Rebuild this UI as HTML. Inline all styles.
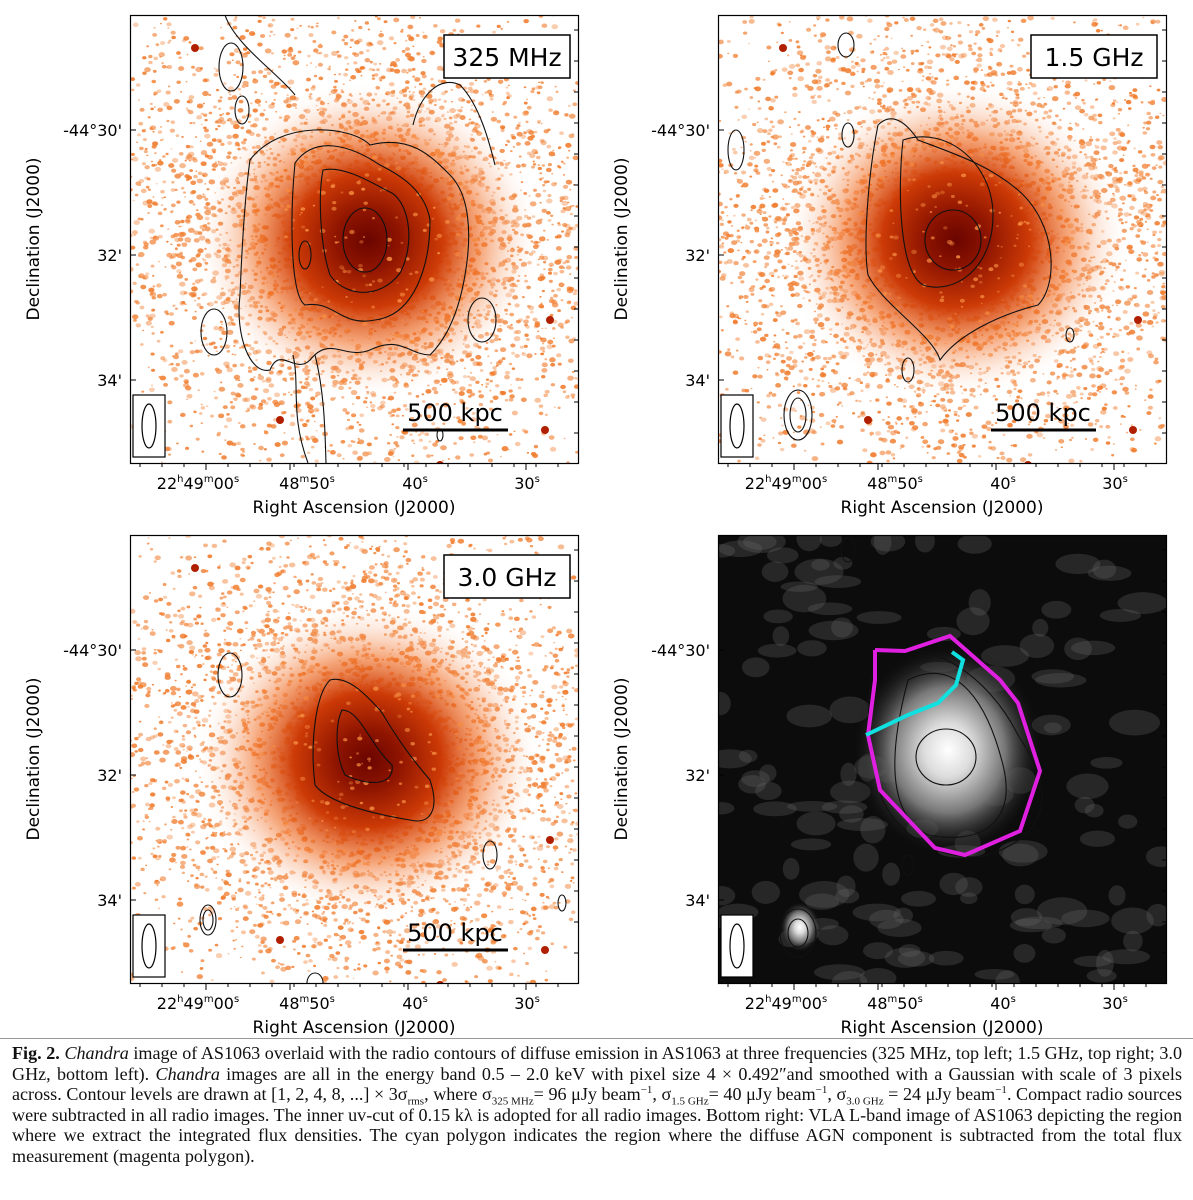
<!DOCTYPE html>
<html><head><meta charset="utf-8"><style>
body{margin:0;background:#fff;width:1193px;height:1200px;overflow:hidden;font-family:"DejaVu Sans","Liberation Sans",sans-serif}
#cap{position:absolute;left:12px;top:1043px;width:1170px;font-family:"Liberation Serif",serif;font-size:18.1px;line-height:20.6px;color:#111;text-align:justify}
#cap sub,#cap sup{font-size:11px;line-height:0}
#sep{position:absolute;left:0;top:1038px;width:1193px;border-top:1px solid #999}
</style></head><body>
<svg id="fig" width="1193" height="1040" style="position:absolute;left:0;top:0"></svg>
<div id="sep"></div>
<div id="cap"><b>Fig. 2.</b> <i>Chandra</i> image of AS1063 overlaid with the radio contours of diffuse emission in AS1063 at three frequencies (325 MHz, top left; 1.5 GHz, top right; 3.0 GHz, bottom left). <i>Chandra</i> images are all in the energy band 0.5 – 2.0 keV with pixel size 4 × 0.492″and smoothed with a Gaussian with scale of 3 pixels across. Contour levels are drawn at [1, 2, 4, 8, ...] × 3σ<sub>rms</sub>, where σ<sub>325 MHz</sub>= 96 μJy beam<sup>−1</sup>, σ<sub>1.5 GHz</sub>= 40 μJy beam<sup>−1</sup>, σ<sub>3.0 GHz</sub> = 24 μJy beam<sup>−1</sup>. Compact radio sources were subtracted in all radio images. The inner uv-cut of 0.15 kλ is adopted for all radio images. Bottom right: VLA L-band image of AS1063 depicting the region where we extract the integrated flux densities. The cyan polygon indicates the region where the diffuse AGN component is subtracted from the total flux measurement (magenta polygon).</div>
<script>
const yTicks=["-44°30'","32'","34'"];
const xTicks=[["22","h","49","m","00","s"],["48","m","50","s"],["40","s"],["30","s"]];
const panelLabels=["325 MHz","1.5 GHz","3.0 GHz",""];
const NS="http://www.w3.org/2000/svg";
const svg=document.getElementById('fig');
function el(t,a,p){const e=document.createElementNS(NS,t);for(const k in a)e.setAttribute(k,a[k]);(p||svg).appendChild(e);return e;}
let seed=7;function rnd(){seed=(seed*16807)%2147483647;return seed/2147483647;}
const W=448,H=448;
const panels=[[130,15],[718,15],[130,535],[718,535]];
const defs=el('defs',{});
defs.innerHTML=`<radialGradient id="gx" cx="0.5" cy="0.5" r="0.5"><stop offset="0" stop-color="#6a0500"/><stop offset="0.18" stop-color="#8e1400"/><stop offset="0.42" stop-color="#cc3a06"/><stop offset="0.65" stop-color="#f07028" stop-opacity="0.6"/><stop offset="1" stop-color="#fff" stop-opacity="0"/></radialGradient>
<radialGradient id="gr" cx="0.5" cy="0.5" r="0.5"><stop offset="0" stop-color="#fff"/><stop offset="0.25" stop-color="#ddd"/><stop offset="0.6" stop-color="#777"/><stop offset="1" stop-color="#111" stop-opacity="0"/></radialGradient>
<clipPath id="cp"><rect x="0" y="0" width="448" height="448"/></clipPath>`;
function addSpeckles(g,cx,cy,n,col,rs){
 for(let i=0;i<n;i++){const x=rnd()*W,y=rnd()*H;const d=Math.hypot((x-cx)/1.1,(y-cy))/250;
  if(rnd()>Math.max(0.1,1.15-d))continue;
  const r=0.7+rnd()*rs;const c=el('ellipse',{cx:x,cy:y,rx:r*1.3,ry:r,fill:col,opacity:0.35+rnd()*0.55},g);
  }
}
function ell(g,cx,cy,rx,ry,c,w){el('ellipse',{cx,cy,rx,ry,fill:'none',stroke:c||'#111','stroke-width':w||1.1},g);}
function path(g,d,c,w){el('path',{d,fill:'none',stroke:c||'#111','stroke-width':w||1.1},g);}
panels.forEach(([ox,oy],pi)=>{
 const g=el('g',{transform:`translate(${ox},${oy})`});
 
 const img=el('g',{'clip-path':'url(#cp)'},g);
 if(pi<3){
  el('rect',{x:0,y:0,width:W,height:H,fill:'#fff'},img);
  addSpeckles(img,238,222,7000,'#f07a2a',1.9);
  el('ellipse',{cx:238,cy:225,rx:175,ry:160,fill:'url(#gx)'},img);
  addSpeckles(img,238,222,900,'#f58a40',1.5);
  [[65,33],[420,305],[150,405],[310,450],[415,415]].forEach(p=>el('circle',{cx:p[0],cy:p[1],r:4,fill:'#b02000'},img));
 } else {
  el('rect',{x:0,y:0,width:W,height:H,fill:'#0c0c0c'},img);
  for(let i=0;i<140;i++){el('ellipse',{cx:rnd()*W,cy:rnd()*H,rx:8+rnd()*18,ry:5+rnd()*9,fill:'#666',opacity:0.3},img);}
  el('ellipse',{cx:230,cy:215,rx:95,ry:105,fill:'url(#gr)'},img);
  el('ellipse',{cx:82,cy:392,rx:20,ry:25,fill:'url(#gr)'},img);
 }
 if(pi===0){
  ell(img,235,225,22,32);
  path(img,"M193,155 C215,150 245,170 262,178 C280,190 285,230 270,258 C250,285 215,282 200,260 C190,230 188,180 193,155 Z");
  path(img,"M165,148 C185,120 220,130 250,150 C270,160 295,175 300,205 C300,250 285,300 245,305 C210,312 205,285 175,290 C160,280 160,200 165,148 Z");
  path(img,"M120,145 C150,105 220,110 240,130 C280,120 300,140 320,160 C340,180 342,220 335,260 C330,290 320,320 300,340 C280,340 270,320 240,335 C215,345 200,320 180,345 C165,360 150,330 140,355 C120,360 105,320 110,280 C112,230 115,180 120,145 Z");
  path(img,"M163,340 C170,370 160,400 178,448");path(img,"M185,340 C195,380 195,420 196,448");
  ell(img,101,52,12,24);ell(img,112,95,7,14);ell(img,84,317,13,23);ell(img,352,305,14,22);ell(img,310,420,3,6);ell(img,175,240,6,14);
  path(img,"M283,110 C290,80 310,60 330,70 C350,90 360,130 365,150");
  path(img,"M95,0 C105,30 150,60 165,80");
 } else if(pi===1){
  ell(img,235,225,28,30);
  path(img,"M185,125 C230,110 275,150 275,200 C275,255 235,280 205,270 C180,255 180,170 185,125 Z");
  path(img,"M160,110 C175,95 190,110 200,125 C240,140 270,150 300,175 C340,210 340,270 320,290 C280,300 240,320 222,345 C215,320 165,290 150,260 C145,230 150,160 160,110 Z");
  ell(img,18,135,8,20);ell(img,190,355,6,12);ell(img,80,400,14,25);ell(img,80,400,8,17);ell(img,128,30,8,12);ell(img,352,320,4,7);ell(img,130,120,6,12);
 } else if(pi===2){
  path(img,"M200,145 C220,140 240,165 250,175 C260,190 270,210 300,245 C310,275 300,290 280,285 C250,280 200,270 185,250 C180,210 185,160 200,145 Z");
  path(img,"M212,175 C230,175 240,210 262,230 C265,250 240,252 215,240 C205,220 205,190 212,175 Z");
  ell(img,100,140,12,22);ell(img,78,385,8,15);ell(img,78,385,5,10);ell(img,360,320,7,14);ell(img,432,368,4,8);ell(img,185,448,8,10);
 } else {
  ell(img,228,222,30,28,'#111');
  path(img,"M190,145 C240,120 270,170 285,230 C300,290 260,310 210,300 C170,280 170,220 190,145 Z");
  path(img,"M160,120 C210,100 270,140 300,200 C340,260 330,300 270,320 C230,330 170,300 160,250 C150,200 145,160 160,120 Z");
  ell(img,80,398,18,24);ell(img,80,398,10,14);ell(img,130,15,7,12);ell(img,190,330,6,10);
  el('polyline',{points:"157,115 187,116 232,101 282,145 300,168 322,236 302,296 247,320 217,313 162,255 150,200 157,145 157,115",fill:'none',stroke:'#e020e0','stroke-width':4},img);
  el('polyline',{points:"148,200 190,180 220,168 238,150 245,125 234,117",fill:'none',stroke:'#10e0e0','stroke-width':4},img);
 }
 el('rect',{x:0.5,y:0.5,width:W,height:H,fill:'none',stroke:'#000','stroke-width':1.2},g);
 const bb=el('g',{},g);
 el('rect',{x:3,y:380,width:32,height:62,fill:'#fff',stroke:'#000','stroke-width':1.2},bb);
 ell(bb,19,411,7,22,'#000',1.2);
 if(pi<3){
  const lb=el('g',{},g);
  const bx=pi===1?313:314;
  el('rect',{x:bx,y:20,width:126,height:43,fill:'#fff',stroke:'#000','stroke-width':1.5},lb);
  const t=el('text',{x:bx+63,y:51,'text-anchor':'middle','font-size':25,fill:'#000'},lb);t.textContent=panelLabels[pi];
  const sb=el('g',{},g);
  const st=el('text',{x:325,y:406,'text-anchor':'middle','font-size':24,fill:'#000'},sb);st.textContent="500 kpc";
  el('line',{x1:273,y1:415,x2:378,y2:415,stroke:'#000','stroke-width':3},sb);
 }
 [115,240,365].forEach((y,i)=>{
  el('line',{x1:0,y1:y,x2:6,y2:y,stroke:'#000'},g);
  const t=el('text',{x:-8,y:y+6,'text-anchor':'end','font-size':16,fill:'#000'},g);
  t.textContent=yTicks[i];
 });
 for(let y=15;y<448;y+=31){el('line',{x1:W,y1:y,x2:W-4,y2:y,stroke:'#000'},g);}
 const xs=[76,160,278,396];
 const xl=[68,177,285,397];
 for(let x=10;x<448;x+=22)el('line',{x1:x,y1:H,x2:x,y2:H+4,stroke:'#000'},g);
 xs.forEach((x,i)=>{
  el('line',{x1:x,y1:H,x2:x,y2:H+7,stroke:'#000'},g);
  const t=el('text',{x:xl[i],y:H+26,'text-anchor':'middle','font-size':16,fill:'#000'},g);
  
  xTicks[i].forEach((s,k)=>{const ts=el('tspan',k%2?{'font-size':10,dy:-7}:{'font-size':16,dy:k?7:0},t);ts.textContent=s;});
 });
 const xt=el('text',{x:224,y:H+50,'text-anchor':'middle','font-size':17,fill:'#000'},g);
 xt.textContent="Right Ascension (J2000)";
 const yt=el('text',{x:0,y:0,'text-anchor':'middle','font-size':17,fill:'#000',transform:`translate(-91,224) rotate(-90)`},g);
 yt.textContent="Declination (J2000)";
});
</script>
</body></html>
